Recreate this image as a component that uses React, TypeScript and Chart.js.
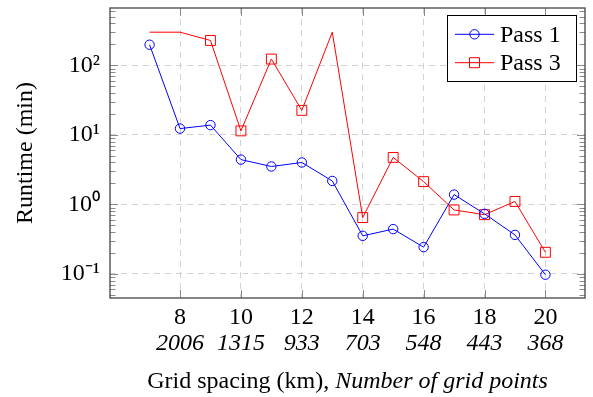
import React, { useEffect, useRef } from "react";
import { Chart, registerables } from "chart.js";

Chart.register(...registerables);

// ---- data ----
const xValues = [7, 8, 9, 10, 11, 12, 13, 14, 15, 16, 17, 18, 19, 20];
const pass1 = [198, 12.3, 13.8, 4.4, 3.5, 4.0, 2.17, 0.352, 0.44, 0.242, 1.38, 0.73, 0.363, 0.097];
const pass3 = [300, 300, 228, 11.4, 123, 22.5, 300, 0.645, 4.73, 2.12, 0.83, 0.71, 1.1, 0.204];
const pass3Marked = [false, false, true, true, true, true, false, true, true, true, true, true, true, true];
const xTicks = [8, 10, 12, 14, 16, 18, 20];
const gridPointLabels = ["2006", "1315", "933", "703", "548", "443", "368"];
const yTicks = [0.1, 1, 10, 100];
const yTickLabels = ["10⁻¹", "10⁰", "10¹", "10²"];
const seriesNames = ["Pass 1", "Pass 3"];

const X_MIN = 5.7;
const X_MAX = 21.3;
const Y_MIN = Math.pow(10, -1.348);
const Y_MAX = Math.pow(10, 2.825);

const FAMILY = "'Liberation Serif', 'Times New Roman', serif";
const FS = 24;

const decorPlugin = {
  id: "decor",
  afterDraw(chart: any) {
    const { ctx, chartArea: a, scales } = chart;
    const xs = scales.x;
    const ys = scales.y;
    ctx.save();
    // inner tick marks
    ctx.strokeStyle = "#8a8a8a";
    ctx.lineWidth = 1;
    ctx.setLineDash([]);
    ctx.beginPath();
    xTicks.forEach((v) => {
      const px = Math.round(xs.getPixelForValue(v)) + 0.5;
      ctx.moveTo(px, a.bottom);
      ctx.lineTo(px, a.bottom - 8);
      ctx.moveTo(px, a.top);
      ctx.lineTo(px, a.top + 8);
    });
    for (let d = -2; d <= 3; d++) {
      for (let m = 1; m <= 9; m++) {
        const v = m * Math.pow(10, d);
        if (v < Y_MIN || v > Y_MAX) continue;
        const len = m === 1 ? 8 : 5.5;
        const py = Math.round(ys.getPixelForValue(v)) + 0.5;
        ctx.moveTo(a.left, py);
        ctx.lineTo(a.left + len, py);
        ctx.moveTo(a.right, py);
        ctx.lineTo(a.right - len, py);
      }
    }
    ctx.stroke();
    // frame
    ctx.strokeStyle = "#444444";
    ctx.lineWidth = 1.3;
    ctx.strokeRect(a.left, a.top, a.right - a.left, a.bottom - a.top);

    // legend
    const bw = 129, bh = 66;
    const bx = a.right - 9 - bw;
    const by = a.top + 7;
    ctx.fillStyle = "#ffffff";
    ctx.fillRect(bx, by, bw, bh);
    ctx.strokeStyle = "#000000";
    ctx.lineWidth = 1;
    ctx.strokeRect(bx + 0.5, by + 0.5, bw, bh);
    const rows = [by + 19.3, by + 47.7];
    chart.data.datasets.forEach((ds: any, i: number) => {
      const ry = rows[i];
      ctx.strokeStyle = ds.borderColor;
      ctx.lineWidth = 1;
      ctx.beginPath();
      ctx.moveTo(bx + 8, ry);
      ctx.lineTo(bx + 47, ry);
      ctx.stroke();
      const cx = bx + 27.5;
      ctx.beginPath();
      if (i === 0) {
        ctx.arc(cx, ry, 4.7, 0, Math.PI * 2);
      } else {
        ctx.rect(cx - 5, ry - 5, 10, 10);
      }
      ctx.stroke();
      ctx.fillStyle = "#000";
      ctx.font = `${FS}px ${FAMILY}`;
      ctx.textBaseline = "middle";
      ctx.textAlign = "left";
      ctx.fillText(seriesNames[i], bx + 53, ry + 1);
    });

    // x title with mixed fonts
    const roman = "Grid spacing (km), ";
    const italic = "Number of grid points";
    ctx.fillStyle = "#000";
    ctx.textBaseline = "alphabetic";
    ctx.textAlign = "left";
    ctx.font = `${FS}px ${FAMILY}`;
    const w1 = ctx.measureText(roman).width;
    ctx.font = `italic ${FS}px ${FAMILY}`;
    const w2 = ctx.measureText(italic).width;
    const cxm = (a.left + a.right) / 2;
    const sx = cxm - (w1 + w2) / 2;
    ctx.font = `${FS}px ${FAMILY}`;
    ctx.fillText(roman, sx, 388);
    ctx.font = `italic ${FS}px ${FAMILY}`;
    ctx.fillText(italic, sx + w1, 388);
    ctx.restore();
  },
};

const zeroPad = (s: any) => {
  s.paddingLeft = 0;
  s.paddingRight = 0;
  s.paddingTop = 0;
  s.paddingBottom = 0;
};

export default function App() {
  const ref = useRef<HTMLCanvasElement>(null);
  useEffect(() => {
    const canvas = ref.current!;
    const chart = new Chart(canvas, {
      type: "line",
      data: {
        datasets: [
          {
            label: seriesNames[0],
            data: xValues.map((x, i) => ({ x, y: pass1[i] })),
            borderColor: "#0000ff",
            borderWidth: 1,
            pointStyle: "circle",
            pointRadius: 4.7,
            pointBorderColor: "#0000ff",
            pointBackgroundColor: "rgba(0,0,0,0)",
            pointBorderWidth: 1,
            tension: 0,
          },
          {
            label: seriesNames[1],
            data: xValues.map((x, i) => ({ x, y: pass3[i] })),
            borderColor: "#ff0000",
            borderWidth: 1,
            pointStyle: "rect",
            pointRadius: pass3Marked.map((m) => (m ? 7 : 0)),
            pointBorderColor: "#ff0000",
            pointBackgroundColor: "rgba(0,0,0,0)",
            pointBorderWidth: 1,
            tension: 0,
          },
        ],
      },
      options: {
        animation: false,
        responsive: false,
        maintainAspectRatio: false,
        layout: { padding: { top: 6, right: 3, left: 0, bottom: 0 } },
        plugins: {
          legend: { display: false },
          tooltip: { enabled: false },
        },
        scales: {
          x: {
            type: "linear",
            position: "bottom",
            min: X_MIN,
            max: X_MAX,
            afterBuildTicks: (s: any) => {
              s.ticks = xTicks.map((v) => ({ value: v }));
            },
            afterFit: (s: any) => {
              s.height = 30;
              zeroPad(s);
            },
            ticks: {
              color: "#000",
              font: { family: FAMILY, size: FS },
              padding: 5,
              maxRotation: 0,
              autoSkip: false,
              callback: (v: any) => String(v),
            },
            grid: { color: "#d2d2d2", lineWidth: 1, drawTicks: false },
            border: { display: false, dash: [6, 5] },
          },
          x2: {
            type: "linear",
            position: "bottom",
            min: X_MIN,
            max: X_MAX,
            afterBuildTicks: (s: any) => {
              s.ticks = xTicks.map((v) => ({ value: v }));
            },
            afterFit: (s: any) => {
              s.height = 69;
              zeroPad(s);
            },
            ticks: {
              color: "#000",
              font: { family: FAMILY, size: FS, style: "italic" },
              padding: 1,
              maxRotation: 0,
              autoSkip: false,
              callback: (v: any) => gridPointLabels[xTicks.indexOf(v)] ?? "",
            },
            grid: { display: false, drawTicks: false },
            border: { display: false },
          },
          y: {
            type: "logarithmic",
            position: "left",
            min: Y_MIN,
            max: Y_MAX,
            afterBuildTicks: (s: any) => {
              s.ticks = yTicks.map((v) => ({ value: v }));
            },
            afterFit: (s: any) => {
              s.width = 110;
              zeroPad(s);
            },
            ticks: {
              color: "#000",
              font: { family: FAMILY, size: FS },
              padding: 10,
              autoSkip: false,
              callback: (v: any) => {
                const idx = yTicks.findIndex((t) => Math.abs(t - v) / t < 1e-6);
                return idx >= 0 ? yTickLabels[idx] : "";
              },
            },
            grid: { color: "#d2d2d2", lineWidth: 1, drawTicks: false },
            border: { display: false, dash: [6, 5] },
            title: {
              display: true,
              text: "Runtime (min)",
              color: "#000",
              font: { family: FAMILY, size: FS },
              padding: { top: 11, bottom: 0 },
            },
          },
        },
      },
      plugins: [decorPlugin],
    } as any);
    return () => chart.destroy();
  }, []);
  return (
    <div style={{ position: "fixed", left: 0, top: 0, width: 593, height: 397, background: "#fff" }}>
      <canvas ref={ref} width={593} height={397} style={{ width: 593, height: 397 }} />
    </div>
  );
}
